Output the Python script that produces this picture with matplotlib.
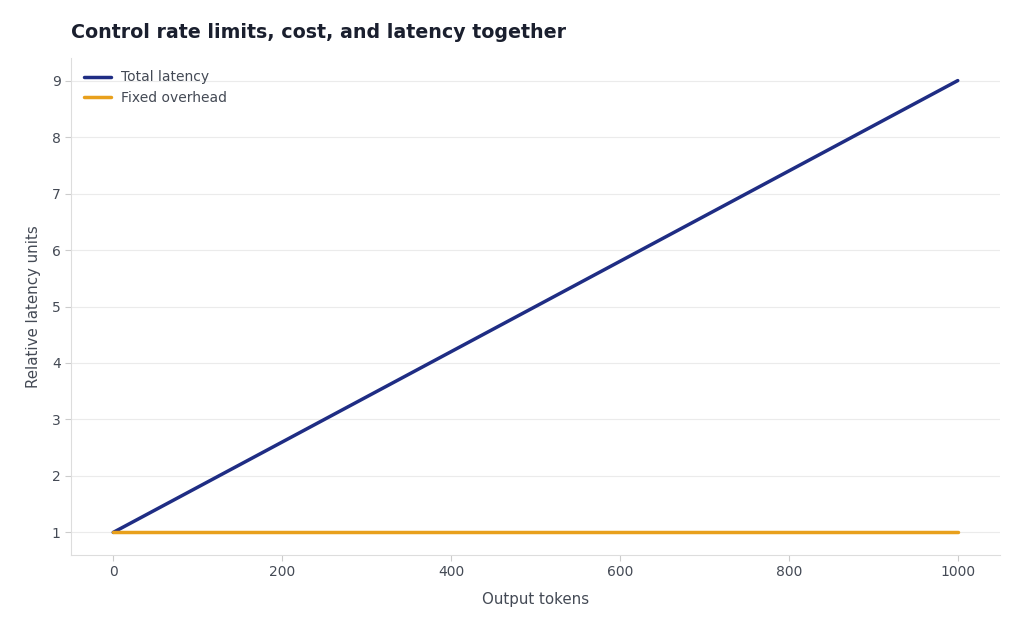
import matplotlib
matplotlib.use("Agg")
import matplotlib.pyplot as plt
import numpy as np

tokens = [0, 100, 200, 300, 400, 500, 600, 700, 800, 900, 1000]
total_latency = [1.0, 1.8, 2.6, 3.4, 4.2, 5.0, 5.8, 6.6, 7.4, 8.2, 9.0]
fixed_overhead = [1.0] * 11

plt.rcParams['font.family'] = ['DejaVu Sans']
fig = plt.figure(figsize=(10.24, 6.31), dpi=100)
ax = fig.add_axes([71/1024, 1-555/631, (1000-71)/1024, (555-58)/631])

ax.plot(tokens, total_latency, color='#1f2d84', lw=2.5, label='Total latency', solid_capstyle='round')
ax.plot(tokens, fixed_overhead, color='#e8a01c', lw=2.5, label='Fixed overhead', solid_capstyle='round')

ax.set_xticks([0, 200, 400, 600, 800, 1000])
ax.set_yticks(range(1, 10))
ax.grid(axis='y', color='#ebebeb', lw=0.8)
ax.set_axisbelow(True)
for s in ['top', 'right']:
    ax.spines[s].set_visible(False)
for s in ['left', 'bottom']:
    ax.spines[s].set_color('#dddddd')
ax.tick_params(colors='#cccccc', labelcolor='#444a55', labelsize=10, length=4)
ax.set_xlabel('Output tokens', fontsize=10.8, color='#444a55', labelpad=9)
ax.set_ylabel('Relative latency units', fontsize=10.8, color='#444a55', labelpad=8)
fig.text(71/1024, 1-33/631, 'Control rate limits, cost, and latency together', fontsize=13.7,
         fontweight='bold', color='#1a1f2e', va='center', ha='left')
leg = ax.legend(loc='upper left', frameon=False, fontsize=10, handlelength=2.0,
                handletextpad=0.7, labelspacing=0.45, borderaxespad=0.5)
for t in leg.get_texts():
    t.set_color('#444a55')

fig.savefig('out.png', dpi=100, facecolor='white')
